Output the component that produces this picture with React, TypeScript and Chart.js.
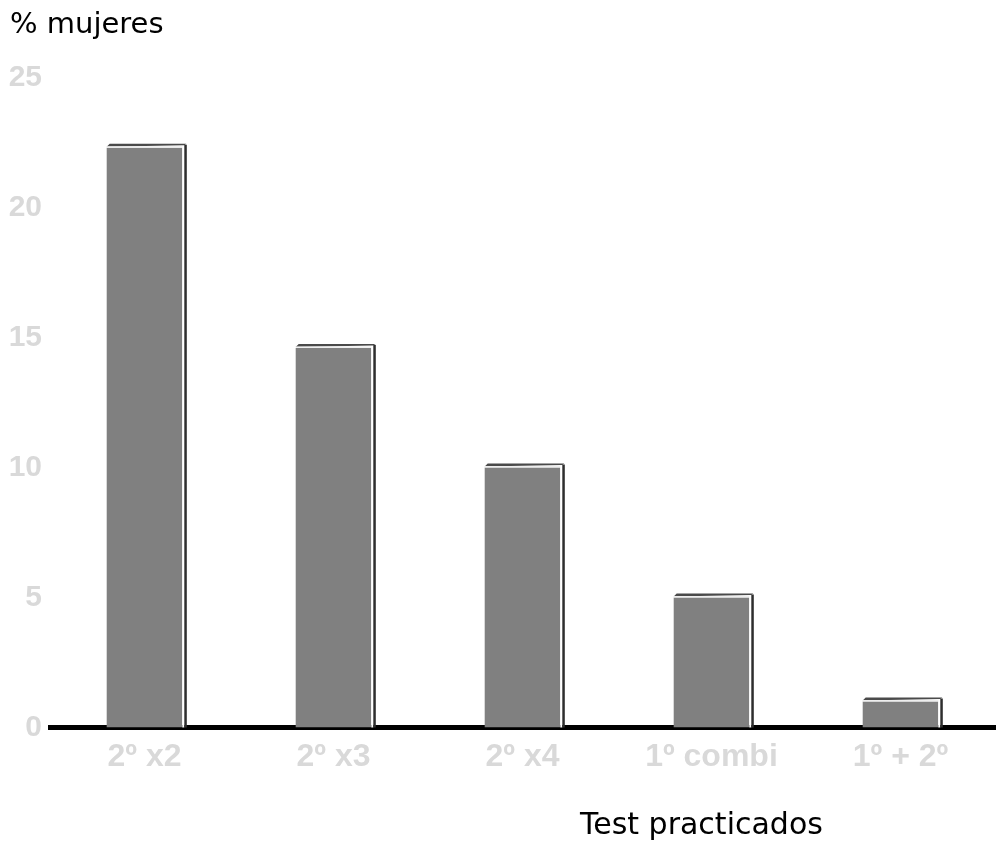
import React, { useEffect, useRef } from "react";
import { Chart, registerables } from "chart.js";

Chart.register(...registerables);

const categories = ["2º x2", "2º x3", "2º x4", "1º combi", "1º + 2º"];
const values = [22.3, 14.6, 10, 5, 1];
const yMin = 0;
const yMax = 25;
const yStep = 5;
const yTitle = "% mujeres";
const xTitle = "Test practicados";

const bar3d = {
  id: "bar3d",
  afterDatasetsDraw(chart: any) {
    const ctx = chart.ctx;
    const meta = chart.getDatasetMeta(0);
    ctx.save();
    meta.data.forEach((el: any) => {
      const { x, y, base, width } = el.getProps(["x", "y", "base", "width"], true);
      const left = x - width / 2;
      const right = x + width / 2;
      ctx.fillStyle = "#ffffff";
      ctx.fillRect(right, y - 3, 2, base - y + 3);
      ctx.fillStyle = "#4a4a4a";
      ctx.beginPath();
      ctx.moveTo(left, y - 1);
      ctx.lineTo(left + 3, y - 4);
      ctx.lineTo(right + 4, y - 4);
      ctx.lineTo(right + 2, y - 2.5);
      ctx.closePath();
      ctx.fill();
      ctx.fillStyle = "#eeeeee";
      ctx.fillRect(left, y - 1.5, width, 1.5);
      ctx.fillStyle = "#2e2e2e";
      ctx.fillRect(right + 2, y - 3, 2.5, base - y + 3);
    });
    ctx.restore();
  },
};

export default function App() {
  const ref = useRef<HTMLCanvasElement>(null);
  useEffect(() => {
    if (!ref.current) return;
    const chart = new Chart(ref.current, {
      type: "bar",
      data: {
        labels: categories,
        datasets: [
          {
            data: values,
            backgroundColor: "#808080",
            borderWidth: 0,
            barPercentage: 0.4,
            categoryPercentage: 1,
          },
        ],
      },
      options: {
        animation: false,
        responsive: false,
        layout: { padding: { top: 77.5, right: 2, left: 0, bottom: 0 } },
        plugins: { legend: { display: false }, tooltip: { enabled: false } },
        scales: {
          x: {
            grid: { display: false, drawTicks: false },
            border: { display: true, color: "#000000", width: 5 },
            ticks: {
              color: "#d9d9d9",
              font: { family: "Liberation Sans, Arial", size: 32, weight: "bold" },
              padding: 10,
              maxRotation: 0,
            },
            afterFit: (s: any) => {
              s.height = 117.5;
            },
          },
          y: {
            min: yMin,
            max: yMax,
            grid: { display: false, drawTicks: false },
            border: { display: false },
            ticks: {
              stepSize: yStep,
              color: "#d9d9d9",
              font: { family: "Liberation Sans, Arial", size: 30, weight: "bold" },
              padding: 8,
            },
            afterFit: (s: any) => {
              s.width = 50;
            },
          },
        },
      },
      plugins: [bar3d],
    });
    return () => chart.destroy();
  }, []);
  return (
    <div style={{ position: "fixed", left: 0, top: 0, width: 997, height: 845, background: "#fff" }}>
      <canvas ref={ref} width={997} height={845} style={{ display: "block" }} />
      <div
        style={{
          position: "absolute",
          left: 10,
          top: 6,
          fontFamily: "DejaVu Sans",
          fontSize: 29,
          lineHeight: "normal",
          color: "#000",
          whiteSpace: "nowrap",
        }}
      >
        {yTitle}
      </div>
      <div
        style={{
          position: "absolute",
          left: 580,
          top: 806,
          fontFamily: "DejaVu Sans",
          fontSize: 30,
          lineHeight: "normal",
          color: "#000",
          whiteSpace: "nowrap",
        }}
      >
        {xTitle}
      </div>
    </div>
  );
}
